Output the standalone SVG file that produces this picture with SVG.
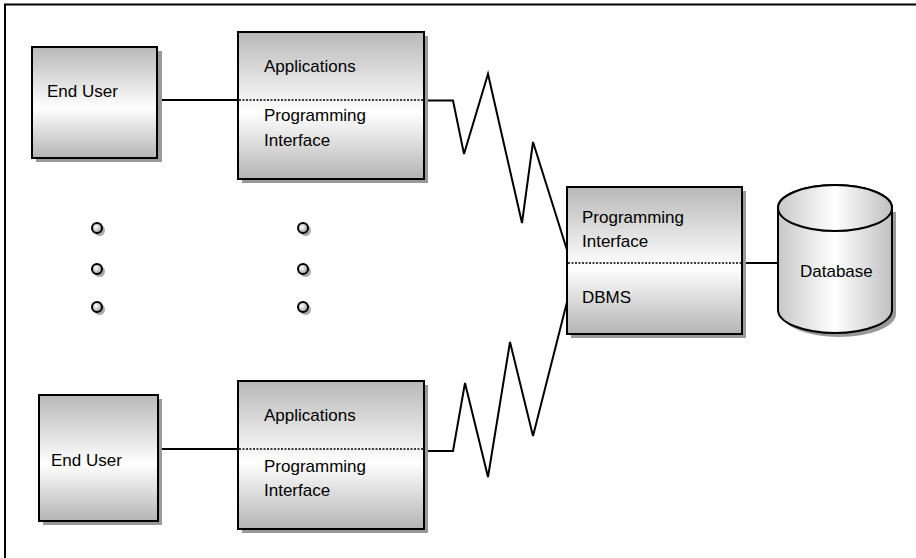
<svg xmlns="http://www.w3.org/2000/svg" width="916" height="558" viewBox="0 0 916 558">
<defs>
<linearGradient id="boxg" x1="0" y1="0" x2="0" y2="1">
<stop offset="0" stop-color="#b8b8b8"/>
<stop offset="0.55" stop-color="#ffffff"/>
<stop offset="1" stop-color="#b4b4b4"/>
</linearGradient>
<linearGradient id="cylg" x1="0" y1="0" x2="1" y2="0">
<stop offset="0" stop-color="#c8c8c8"/>
<stop offset="0.5" stop-color="#ffffff"/>
<stop offset="1" stop-color="#c0c0c0"/>
</linearGradient>
<radialGradient id="dotg" cx="0.4" cy="0.4" r="0.6">
<stop offset="0" stop-color="#ffffff"/>
<stop offset="1" stop-color="#a0a0a0"/>
</radialGradient>
</defs>
<style>
.box{fill:url(#boxg);stroke:#000;stroke-width:2}
.shadow{fill:#999}
.lbl{font-family:"Liberation Sans",Arial,sans-serif;font-size:17px;fill:#000}
.sep{stroke:#000;stroke-width:1.5;stroke-dasharray:2 1.5}
.conn{fill:none;stroke:#000;stroke-width:2;stroke-linejoin:miter}
.dot{fill:url(#dotg);stroke:#000;stroke-width:2}
.dotsh{fill:#aaa}
</style>
<rect width="916" height="558" fill="#fff"/>
<g id="frame">
<line x1="4" y1="4.5" x2="916" y2="4.5" stroke="#000" stroke-width="2"/>
<line x1="5" y1="4" x2="5" y2="558" stroke="#000" stroke-width="2"/>
</g>
<g id="connectors">
<line class="conn" x1="158" y1="100" x2="238" y2="100"/>
<line class="conn" x1="158" y1="449" x2="238" y2="449"/>
<polyline class="conn" points="424,100.5 453,100.5 464,154 488,74 522,223 533,142 567,250"/>
<polyline class="conn" points="424,451 453,451 465,383 488,477 510,342 533,436 567,302"/>
<line class="conn" x1="742" y1="263" x2="778" y2="263"/>
</g>
<g id="enduser1">
<rect class="shadow" x="36" y="51" width="126" height="111"/>
<rect class="box" x="32" y="47" width="125" height="111"/>
<text class="lbl" x="47" y="97">End User</text>
</g>
<g id="app1">
<rect class="shadow" x="242" y="36" width="186" height="147"/>
<rect class="box" x="238" y="32" width="186" height="147"/>
<line class="sep" x1="239" y1="100" x2="423" y2="100"/>
<text class="lbl" x="264" y="72">Applications</text>
<text class="lbl" x="264" y="121">Programming</text>
<text class="lbl" x="264" y="146">Interface</text>
</g>
<g id="dots">
<circle class="dotsh" cx="99.5" cy="230.5" r="5.5"/>
<circle class="dot" cx="97" cy="228" r="5"/>
<circle class="dotsh" cx="99.5" cy="271.5" r="5.5"/>
<circle class="dot" cx="97" cy="269" r="5"/>
<circle class="dotsh" cx="99.5" cy="309.5" r="5.5"/>
<circle class="dot" cx="97" cy="307" r="5"/>
<circle class="dotsh" cx="305.5" cy="230.5" r="5.5"/>
<circle class="dot" cx="303" cy="228" r="5"/>
<circle class="dotsh" cx="305.5" cy="271.5" r="5.5"/>
<circle class="dot" cx="303" cy="269" r="5"/>
<circle class="dotsh" cx="305.5" cy="309.5" r="5.5"/>
<circle class="dot" cx="303" cy="307" r="5"/>
</g>
<g id="enduser2">
<rect class="shadow" x="43" y="399" width="119" height="126"/>
<rect class="box" x="39" y="395" width="119" height="126"/>
<text class="lbl" x="51" y="466">End User</text>
</g>
<g id="app2">
<rect class="shadow" x="242" y="385" width="186" height="148"/>
<rect class="box" x="238" y="381" width="186" height="148"/>
<line class="sep" x1="239" y1="449" x2="423" y2="449"/>
<text class="lbl" x="264" y="421">Applications</text>
<text class="lbl" x="264" y="472">Programming</text>
<text class="lbl" x="264" y="496">Interface</text>
</g>
<g id="dbms">
<rect class="shadow" x="571" y="191" width="175" height="147"/>
<rect class="box" x="567" y="187" width="175" height="147"/>
<line class="sep" x1="568" y1="263" x2="741" y2="263"/>
<text class="lbl" x="582" y="223">Programming</text>
<text class="lbl" x="582" y="247">Interface</text>
<text class="lbl" x="582" y="303">DBMS</text>
</g>
<g id="database">
<path d="M782,212 L782,314 A57,23 0 0 0 896,314 L896,212 Z" fill="#999"/>
<path d="M778,208 L778,310 A57,23 0 0 0 892,310 L892,208 A57,23 0 0 0 778,208 Z" fill="url(#cylg)" stroke="#000" stroke-width="2"/>
<ellipse cx="835" cy="208" rx="57" ry="23" fill="url(#cylg)" stroke="#000" stroke-width="2"/>
<text class="lbl" x="800" y="277">Database</text>
</g>
</svg>
